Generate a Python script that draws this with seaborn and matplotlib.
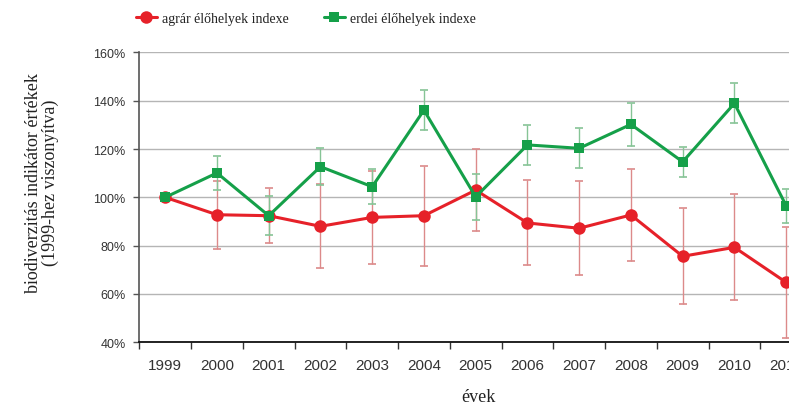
import matplotlib
matplotlib.use("Agg")
import matplotlib.pyplot as plt
import seaborn as sns
import pandas as pd
from matplotlib.ticker import FixedLocator, PercentFormatter, NullFormatter

# ---- data ----
years = list(range(1999, 2012))
agrar = [100, 92.8, 92.4, 88.0, 91.7, 92.4, 103.0, 89.4, 87.2, 92.7, 75.6, 79.3, 64.8]
agrar_err = [0, 14.0, 11.3, 17.4, 19.3, 20.7, 17.0, 17.6, 19.5, 19.0, 19.9, 22.0, 23.0]
erdei = [100, 110.1, 92.4, 112.7, 104.4, 136.1, 100.2, 121.7, 120.3, 130.2, 114.7, 138.9, 96.5]
erdei_err = [0, 7.0, 8.0, 7.6, 7.2, 8.3, 9.6, 8.4, 8.3, 8.9, 6.3, 8.3, 7.0]
y_ticks = [40, 60, 80, 100, 120, 140, 160]
label_agrar = "agrár élőhelyek indexe"
label_erdei = "erdei élőhelyek indexe"

sns.set_theme(style="white")
serif = ["Liberation Serif", "DejaVu Serif"]
sans = ["Liberation Sans", "DejaVu Sans"]

fig = plt.figure(figsize=(7.89, 4.10), dpi=100)
ax = fig.add_axes([0.1766, 0.1627, 0.8526, 0.7071])

red = "#e62129"
green = "#15a049"

# error bars
eb1 = ax.errorbar(years, agrar, yerr=agrar_err, fmt="none", ecolor="#dc8a8a",
                  elinewidth=1.0, capsize=3, capthick=1.2, zorder=2)
for c in eb1[1]:
    c.set_color("#a3262a")
eb2 = ax.errorbar(years, erdei, yerr=erdei_err, fmt="none", ecolor="#86c496",
                  elinewidth=1.0, capsize=3, capthick=1.2, zorder=2)
for c in eb2[1]:
    c.set_color("#3e8a55")

df_a = pd.DataFrame({"év": years, "érték": agrar})
df_e = pd.DataFrame({"év": years, "érték": erdei})
sns.lineplot(data=df_a, x="év", y="érték", ax=ax, color=red, marker="o",
             markersize=9, markeredgewidth=0, linewidth=2.2, label=label_agrar, zorder=3)
sns.lineplot(data=df_e, x="év", y="érték", ax=ax, color=green, marker="s",
             markersize=7.5, markeredgewidth=0, linewidth=2.2, label=label_erdei, zorder=4)

ax.set_xlim(1998.5, 2011.5)
ax.set_ylim(40, 160)

# x ticks: marks between categories, labels at categories
ax.xaxis.set_major_locator(FixedLocator([y - 0.5 for y in years] + [2011.5]))
ax.xaxis.set_major_formatter(NullFormatter())
ax.set_xticks(years, minor=True)
ax.set_xticklabels([str(y) for y in years], minor=True)
ax.tick_params(axis="x", which="major", direction="out", length=5, width=1, color="#333333", bottom=True)
ax.tick_params(axis="x", which="minor", length=0, pad=11, labelsize=11, labelcolor="#333333")
for t in ax.get_xticklabels(minor=True):
    t.set_family(sans)

ax.set_yticks(y_ticks)
ax.yaxis.set_major_formatter(PercentFormatter(decimals=0))
ax.tick_params(axis="y", direction="out", length=4, width=1, color="#555555", left=True,
               pad=6, labelsize=9, labelcolor="#333333")
for t in ax.get_yticklabels():
    t.set_family(sans)

ax.grid(axis="y", color="#b5b5b5", linewidth=1)
ax.grid(axis="x", visible=False)
for s in ["top", "right"]:
    ax.spines[s].set_visible(False)
ax.spines["left"].set_color("#555555")
ax.spines["left"].set_linewidth(1.2)
ax.spines["bottom"].set_color("#111111")
ax.spines["bottom"].set_linewidth(1.3)

ax.set_ylabel("biodiverzitás indikátor értékek\n(1999-hez viszonyítva)", family=serif,
              fontsize=13, color="#222222", linespacing=1.0)
ax.yaxis.set_label_coords(-0.1446, 0.553)
ax.yaxis.label.set_va("center")
ax.set_xlabel("évek", family=serif, fontsize=13, color="#222222")
ax.xaxis.set_label_coords(0.5035, -0.1887)
ax.xaxis.label.set_va("center")

handles, labels = ax.get_legend_handles_labels()
ax.get_legend().remove()
fig.legend(handles, labels, loc="center", bbox_to_anchor=(306 / 789, 1 - 19 / 410),
           ncol=2, frameon=False, prop={"family": serif, "size": 10},
           handlelength=1.5, columnspacing=2.5, handletextpad=0.4,
           labelcolor="#222222")

fig.savefig("out.png", dpi=100)
